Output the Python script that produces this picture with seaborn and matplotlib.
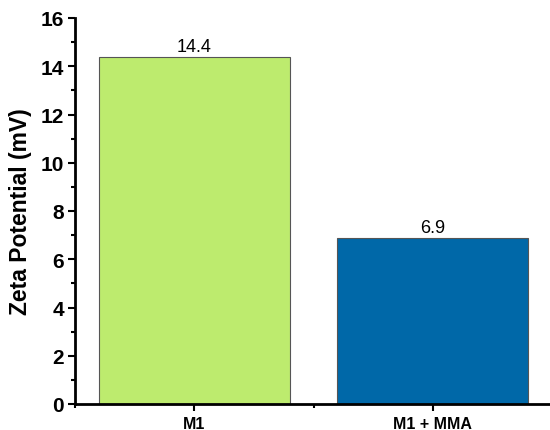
import matplotlib
matplotlib.use("Agg")
import matplotlib.pyplot as plt
from matplotlib.ticker import MultipleLocator
import seaborn as sns
import pandas as pd

samples = ["M1", "M1 + MMA"]
zeta_mv = [14.4, 6.9]
bar_colors = ["#BDEB6E", "#0068A8"]

df = pd.DataFrame({"sample": samples, "zeta": zeta_mv})

sns.set_style("ticks")
plt.rcParams["font.family"] = ["Liberation Sans", "DejaVu Sans"]
plt.rcParams["text.color"] = "black"
plt.rcParams["axes.labelcolor"] = "black"
plt.rcParams["xtick.color"] = "black"
plt.rcParams["ytick.color"] = "black"

fig = plt.figure(figsize=(5.5, 4.31), dpi=100)
ax = fig.add_axes([75 / 550, 26 / 431, 1 - 75 / 550 + 0.004, (405 - 19) / 431])

sns.barplot(data=df, x="sample", y="zeta", hue="sample", palette=bar_colors,
            saturation=1, width=0.8, edgecolor="#555555", linewidth=0.8,
            legend=False, ax=ax)

for p, v in zip(ax.patches, zeta_mv):
    ax.text(p.get_x() + p.get_width() / 2, v + 0.08, f"{v}", ha="center", va="bottom",
            fontsize=13, color="black")

ax.set_xlim(-0.5, 1.5)
ax.set_ylim(0, 16)
ax.yaxis.set_major_locator(MultipleLocator(2))
ax.yaxis.set_minor_locator(MultipleLocator(1))
ax.xaxis.set_minor_locator(MultipleLocator(1, offset=0.5))

ax.set_xlabel("")
ax.set_ylabel("Zeta Potential (mV)", fontsize=16.5, fontweight="bold")
ax.yaxis.set_label_coords(-0.09, 0.5)

for s in ["top", "right"]:
    ax.spines[s].set_visible(False)
for s in ["left", "bottom"]:
    ax.spines[s].set_linewidth(2)
    ax.spines[s].set_color("black")

ax.tick_params(axis="y", which="major", length=5, width=1.5, labelsize=15, pad=3)
ax.tick_params(axis="y", which="minor", length=3, width=1.5)
ax.tick_params(axis="x", which="major", length=5, width=1.5, labelsize=11.5, pad=4)
ax.tick_params(axis="x", which="minor", length=3, width=1.5)
for lab in ax.get_yticklabels() + ax.get_xticklabels():
    lab.set_fontweight("bold")

fig.savefig("out.png", dpi=100)
